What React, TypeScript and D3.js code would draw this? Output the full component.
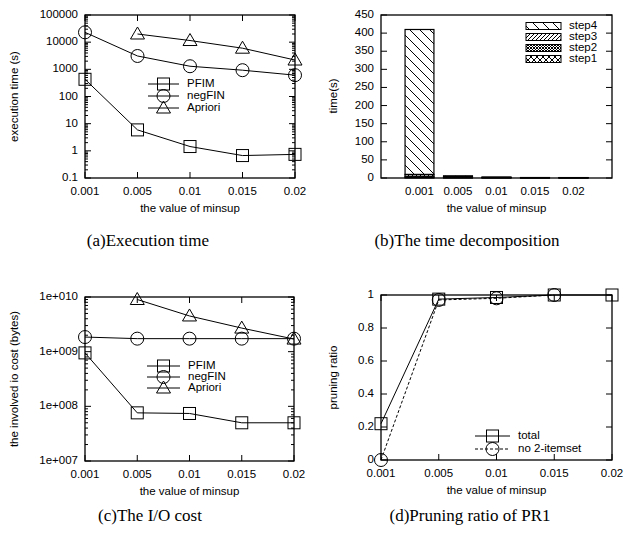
import React, {useEffect, useRef} from 'react'
import * as d3 from 'd3';

const minsup = ['0.001', '0.005', '0.01', '0.015', '0.02'];

// (a) execution time (s)
const pfimTime = [430, 5.9, 1.44, 0.67, 0.74];
const negfinTime = [23000, 3100, 1300, 930, 610];
const aprioriTime = [null, 20000, 11500, 6000, 2200];

// (b) time decomposition of PFIM (s)
const step1 = [2, 1, 0.5, 0.3, 0.3];
const step2 = [3, 1.5, 0.8, 0.4, 0.4];
const step3 = [5, 2, 0.7, 0.3, 0.3];
const step4 = [400, 1.5, 0.5, 0.3, 0.2];
const stepNames = ['step4', 'step3', 'step2', 'step1'];

// (c) io cost (bytes)
const pfimIO = [9.5e8, 7.6e7, 7.4e7, 5.0e7, 5.0e7];
const negfinIO = [1.85e9, 1.73e9, 1.73e9, 1.73e9, 1.73e9];
const aprioriIO = [null, 9.0e9, 4.5e9, 2.7e9, 1.7e9];

// (d) pruning ratio
const prTotal = [0.22, 0.975, 0.985, 1.0, 1.0];
const prNo2 = [0, 0.97, 0.98, 1.0, null];

const sans = 'Liberation Sans, Arial, Helvetica, sans-serif';
const serif = 'Liberation Serif, Times New Roman, serif';

function drawMarker(g, type, x, y){
    if (type === 'square')
        g.append('rect').attr('x', x-6).attr('y', y-6).attr('width', 12).attr('height', 12)
            .attr('fill', 'none').attr('stroke', 'black');
    else if (type === 'circle')
        g.append('circle').attr('cx', x).attr('cy', y).attr('r', 6.5)
            .attr('fill', 'none').attr('stroke', 'black');
    else
        g.append('path').attr('d', `M${x},${y-7}L${x+7},${y+5}L${x-7},${y+5}Z`)
            .attr('fill', 'none').attr('stroke', 'black');
}

function frame(g, x0, x1, y0, y1){
    g.append('rect').attr('x', x0).attr('y', y0).attr('width', x1-x0).attr('height', y1-y0)
        .attr('fill', 'none').attr('stroke', 'black').attr('stroke-width', 1.3);
}

function yTitle(g, text, x, y){
    g.append('text').attr('transform', `translate(${x},${y}) rotate(-90)`)
        .attr('text-anchor', 'middle').attr('dominant-baseline', 'middle')
        .attr('font-family', sans).attr('font-size', 11.5).text(text);
}

function xTitles(g, x0, x1, y1, caption, captionX, captionY){
    g.append('text').attr('x', (x0+x1)/2).attr('y', y1 + 31)
        .attr('text-anchor', 'middle').attr('dominant-baseline', 'middle')
        .attr('font-family', sans).attr('font-size', 11.5).text('the value of minsup');
    g.append('text').attr('x', captionX).attr('y', captionY)
        .attr('text-anchor', 'middle').attr('dominant-baseline', 'middle')
        .attr('font-family', serif).attr('font-size', 17).text(caption);
}

function yTicks(g, yscale, ticks, x0, x1, len, fmt){
    ticks.forEach(t => {
        const y = yscale(t);
        g.append('line').attr('x1', x0).attr('x2', x0+len).attr('y1', y).attr('y2', y).attr('stroke', 'black');
        g.append('line').attr('x1', x1).attr('x2', x1-len).attr('y1', y).attr('y2', y).attr('stroke', 'black');
        if (fmt)
            g.append('text').attr('x', x0-7).attr('y', y).attr('text-anchor', 'end')
                .attr('dominant-baseline', 'middle').attr('font-family', sans).attr('font-size', 11.5)
                .text(fmt(t));
    });
}

function linePanel(svg, cfg){
    const g = svg.append('g');
    const xscale = d3.scalePoint().domain(minsup).range([cfg.x0, cfg.x1]);
    const yscale = cfg.log
        ? d3.scaleLog().domain(cfg.domain).range([cfg.y1, cfg.y0])
        : d3.scaleLinear().domain(cfg.domain).range([cfg.y1, cfg.y0]);

    // minor ticks on log axes
    if (cfg.log){
        const minor = [];
        for (let e = Math.log10(cfg.domain[0]); e < Math.log10(cfg.domain[1]); e++)
            for (let m = 2; m <= 9; m++) minor.push(m * Math.pow(10, e));
        yTicks(g, yscale, minor, cfg.x0, cfg.x1, 3, null);
    }
    yTicks(g, yscale, cfg.yticks, cfg.x0, cfg.x1, 6, cfg.fmt);

    minsup.forEach(m => {
        const x = xscale(m);
        g.append('line').attr('x1', x).attr('x2', x).attr('y1', cfg.y1).attr('y2', cfg.y1-6).attr('stroke', 'black');
        g.append('line').attr('x1', x).attr('x2', x).attr('y1', cfg.y0).attr('y2', cfg.y0+6).attr('stroke', 'black');
        g.append('text').attr('x', x).attr('y', cfg.y1 + 14).attr('text-anchor', 'middle')
            .attr('dominant-baseline', 'middle').attr('font-family', sans).attr('font-size', 11.5).text(m);
    });

    cfg.series.forEach(s => {
        const pts = s.values.map((v, i) => [minsup[i], v]).filter(p => p[1] !== null);
        const line = d3.line().x(p => xscale(p[0])).y(p => yscale(p[1]));
        g.append('path').attr('d', line(pts)).attr('fill', 'none').attr('stroke', 'black')
            .attr('stroke-width', 1).attr('stroke-dasharray', s.dash || null);
        pts.forEach(p => drawMarker(g, s.marker, xscale(p[0]), yscale(p[1])));
    });

    // legend
    cfg.series.forEach((s, i) => {
        const y = cfg.legend.y + i * cfg.legend.dy;
        g.append('line').attr('x1', cfg.legend.x).attr('x2', cfg.legend.x + cfg.legend.w)
            .attr('y1', y).attr('y2', y).attr('stroke', 'black').attr('stroke-dasharray', s.dash || null);
        drawMarker(g, s.marker, cfg.legend.x + cfg.legend.w/2, y);
        g.append('text').attr('x', cfg.legend.x + cfg.legend.w + 8).attr('y', y)
            .attr('dominant-baseline', 'middle').attr('font-family', sans).attr('font-size', 11.5).text(s.name);
    });

    frame(g, cfg.x0, cfg.x1, cfg.y0, cfg.y1);
    yTitle(g, cfg.ytitle, cfg.ytitleX, (cfg.y0+cfg.y1)/2);
    xTitles(g, cfg.x0, cfg.x1, cfg.y1, cfg.caption, cfg.captionX, cfg.captionY);
}

function barPanel(svg){
    const x0 = 381, x1 = 612, y0 = 15, y1 = 178;
    const g = svg.append('g');
    const defs = svg.append('defs');

    const pat = (id, size, paths) => {
        const p = defs.append('pattern').attr('id', id).attr('patternUnits', 'userSpaceOnUse')
            .attr('width', size).attr('height', size);
        p.append('rect').attr('width', size).attr('height', size).attr('fill', 'white');
        paths.forEach(d => p.append('path').attr('d', d).attr('stroke', 'black').attr('stroke-width', 1).attr('fill', 'none'));
    };
    pat('p4', 10, ['M0,0L10,10', 'M-5,5L5,15', 'M5,-5L15,5']);
    pat('p3', 4, ['M0,4L4,0', 'M-1,1L1,-1', 'M3,5L5,3']);
    pat('p2', 3, ['M0,0L3,3', 'M0,3L3,0']);
    pat('p1', 6, ['M0,0L6,6', 'M0,6L6,0']);
    const fills = {step4: 'url(#p4)', step3: 'url(#p3)', step2: 'url(#p2)', step1: 'url(#p1)'};

    const xscale = d3.scaleLinear().domain([0, minsup.length + 1]).range([x0, x1]);
    const yscale = d3.scaleLinear().domain([0, 450]).range([y1, y0]);

    yTicks(g, yscale, d3.range(0, 451, 50), x0, x1, 6, d => d);

    const rows = minsup.map((m, i) => ({m, step1: step1[i], step2: step2[i], step3: step3[i], step4: step4[i]}));
    const stack = d3.stack().keys(['step1', 'step2', 'step3', 'step4'])(rows);
    const bw = 0.75;
    stack.forEach(layer => {
        layer.forEach((d, i) => {
            g.append('rect')
                .attr('x', xscale(i + 1 - bw/2)).attr('width', xscale(bw) - xscale(0))
                .attr('y', yscale(d[1])).attr('height', yscale(d[0]) - yscale(d[1]))
                .attr('fill', fills[layer.key]).attr('stroke', 'black').attr('stroke-width', 1.2);
        });
    });

    minsup.forEach((m, i) => {
        g.append('text').attr('x', xscale(i + 1)).attr('y', y1 + 14).attr('text-anchor', 'middle')
            .attr('dominant-baseline', 'middle').attr('font-family', sans).attr('font-size', 11.5).text(m);
    });

    stepNames.forEach((s, i) => {
        const y = 26 + i * 11;
        g.append('rect').attr('x', 526).attr('y', y - 3.5).attr('width', 35).attr('height', 7)
            .attr('fill', fills[s]).attr('stroke', 'black').attr('stroke-width', 1);
        g.append('text').attr('x', 569).attr('y', y).attr('dominant-baseline', 'middle')
            .attr('font-family', sans).attr('font-size', 11.5).text(s);
    });

    frame(g, x0, x1, y0, y1);
    yTitle(g, 'time(s)', 334, 96);
    xTitles(g, x0, x1, y1, '(b)The time decomposition', 467, 242);
}

export default function App(){
    const svgRef = useRef(null);

    useEffect(() => {
        const svg = d3.select(svgRef.current);
        svg.selectAll('*').remove();

        const decades = v => v >= 1 ? String(v) : '0.1';
        linePanel(svg, {
            x0: 85, x1: 295, y0: 15, y1: 178, log: true, domain: [0.1, 100000],
            yticks: [0.1, 1, 10, 100, 1000, 10000, 100000], fmt: decades,
            series: [
                {name: 'PFIM', values: pfimTime, marker: 'square'},
                {name: 'negFIN', values: negfinTime, marker: 'circle'},
                {name: 'Apriori', values: aprioriTime, marker: 'triangle'},
            ],
            legend: {x: 148, y: 84, dy: 12, w: 31},
            ytitle: 'execution time (s)', ytitleX: 15,
            caption: '(a)Execution time', captionX: 148, captionY: 242,
        });

        barPanel(svg);

        const sci = v => '1e+0' + Math.round(Math.log10(v)).toString().padStart(2, '0');
        linePanel(svg, {
            x0: 85, x1: 294, y0: 297, y1: 461, log: true, domain: [1e7, 1e10],
            yticks: [1e7, 1e8, 1e9, 1e10], fmt: sci,
            series: [
                {name: 'PFIM', values: pfimIO, marker: 'square'},
                {name: 'negFIN', values: negfinIO, marker: 'circle'},
                {name: 'Apriori', values: aprioriIO, marker: 'triangle'},
            ],
            legend: {x: 147, y: 366, dy: 11, w: 33},
            ytitle: 'the involved io cost (bytes)', ytitleX: 15,
            caption: '(c)The I/O cost', captionX: 150, captionY: 517,
        });

        linePanel(svg, {
            x0: 381, x1: 612, y0: 295, y1: 460, log: false, domain: [0, 1],
            yticks: [0, 0.2, 0.4, 0.6, 0.8, 1], fmt: d => String(d),
            series: [
                {name: 'total', values: prTotal, marker: 'square'},
                {name: 'no 2-itemset', values: prNo2, marker: 'circle', dash: '3,2'},
            ],
            legend: {x: 475, y: 436, dy: 13, w: 35},
            ytitle: 'pruning ratio', ytitleX: 334,
            caption: '(d)Pruning ratio of PR1', captionX: 470, captionY: 517,
        });
    }, []);

    return (
        <svg ref={svgRef} width={624} height={538}
            style={{position: 'absolute', left: 0, top: 0, background: 'white'}}>
        </svg>
    );
}
